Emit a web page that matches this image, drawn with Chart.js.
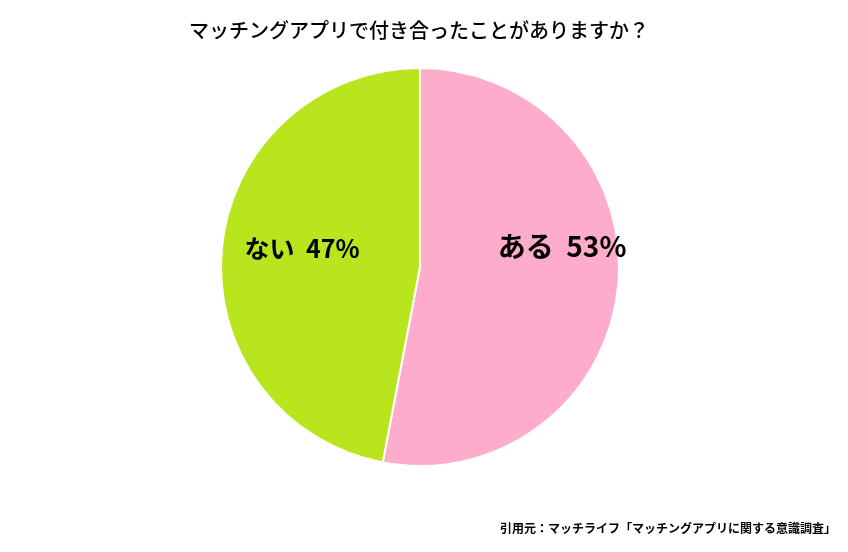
<!DOCTYPE html>
<html><head><meta charset="utf-8">
<script src="https://cdn.jsdelivr.net/npm/chart.js@4"></script>
<style>html,body{margin:0;padding:0;background:#fff}#w{width:848px;height:552px}</style>
</head><body><div id="w"><canvas id="c" width="848" height="552"></canvas></div>
<script>
const categories = ["ある", "ない"];
const values = [53, 47];
const colors = ["#FDADCB", "#B8E51E"];
const titleText = "マッチングアプリで付き合ったことがありますか？";
const sourceText = "引用元：マッチライフ「マッチングアプリに関する意識調査」";
const F = '"Noto Sans CJK JP", "Noto Sans", sans-serif';
const deco = {
  id: 'deco',
  afterDraw(chart) {
    const ctx = chart.ctx;
    ctx.save();
    ctx.fillStyle = '#000';
    ctx.textBaseline = 'middle';
    ctx.textAlign = 'center';
    ctx.font = '500 20px ' + F;
    ctx.fillText(titleText, 419, 30);
    ctx.textAlign = 'right';
    ctx.font = 'bold 12px ' + F;
    ctx.fillText(sourceText, 836, 528);
    const meta = chart.getDatasetMeta(0);
    const pos = [[562, 246, 28], [302, 248, 25]];
    meta.data.forEach((arc, i) => {
      ctx.textAlign = 'center';
      ctx.font = 'bold ' + pos[i][2] + 'px ' + F;
      ctx.fillText(categories[i] + '  ' + values[i] + '%', pos[i][0], pos[i][1]);
    });
    ctx.restore();
  }
};
new Chart(document.getElementById('c'), {
  type: 'pie',
  data: { labels: categories, datasets: [{ data: values, backgroundColor: colors, borderColor: '#fff', borderWidth: 2 }] },
  options: {
    responsive: false, animation: false,
    layout: { padding: { left: 0, right: 8, top: 67, bottom: 85 } },
    plugins: { legend: { display: false }, tooltip: { enabled: false }, title: { display: false } }
  },
  plugins: [deco]
});
</script></body></html>
